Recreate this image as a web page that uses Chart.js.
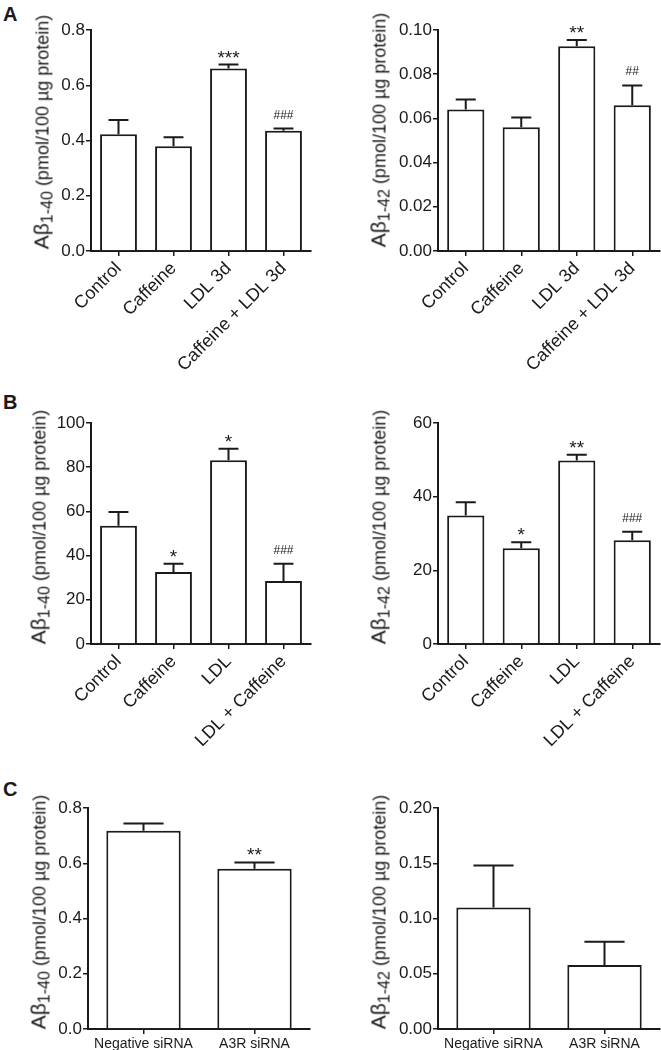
<!DOCTYPE html>
<html>
<head>
<meta charset="utf-8">
<script src="https://cdn.jsdelivr.net/npm/chart.js@4.4.1/dist/chart.umd.min.js"></script>
<style>
  body { margin: 0; background: #fff; }
  #fig { position: relative; width: 661px; height: 1050px; overflow: hidden;
         font-family: 'Liberation Sans', Arial, sans-serif; color: #1a1a1a; }
  .ytitle { position: absolute; white-space: nowrap; line-height: 1; font-size: 18px;
            transform: translate(-50%, -50%) rotate(-90deg); }
  .ytitle .ab { font-size: 21px; }
  .ytitle .sub { font-size: 16px; position: relative; top: 4px; }
  .letter { position: absolute; left: 3px; font-weight: bold; font-size: 20px; line-height: 1; }
</style>
</head>
<body>
<div id="fig">
  <div class="letter" style="top:4px">A</div>
  <div class="letter" style="top:392px">B</div>
  <div class="letter" style="top:779px">C</div>
</div>
<script>
// categories
const groupsA = ['Control', 'Caffeine', 'LDL 3d', 'Caffeine + LDL 3d'];
const groupsB = ['Control', 'Caffeine', 'LDL', 'LDL + Caffeine'];
const groupsC = ['Negative siRNA', 'A3R siRNA'];

// A: Abeta 1-40 / 1-42 (mean, upper error)
const a40 = [0.423, 0.379, 0.661, 0.435];
const a40Err = [0.051, 0.033, 0.014, 0.008];
const a40Marks = ['', '', '***', '###'];
const a42 = [0.064, 0.056, 0.0927, 0.066];
const a42Err = [0.0046, 0.0044, 0.0028, 0.0089];
const a42Marks = ['', '', '**', '##'];

// B
const b40 = [53.5, 32.6, 83.1, 28.5];
const b40Err = [6.2, 3.7, 5.3, 7.8];
const b40Marks = ['', '*', '*', '###'];
const b42 = [34.9, 26.0, 49.8, 28.2];
const b42Err = [3.6, 1.6, 1.6, 2.3];
const b42Marks = ['', '*', '**', '###'];

// C
const c40 = [0.718, 0.580];
const c40Err = [0.026, 0.023];
const c40Marks = ['', '**'];
const c42 = [0.110, 0.058];
const c42Err = [0.038, 0.021];
const c42Marks = ['', ''];

// y axis ticks
const ticksA40 = [0, 0.2, 0.4, 0.6, 0.8];
const ticksA42 = [0, 0.02, 0.04, 0.06, 0.08, 0.10];
const ticksB40 = [0, 20, 40, 60, 80, 100];
const ticksB42 = [0, 20, 40, 60];
const ticksC40 = [0, 0.2, 0.4, 0.6, 0.8];
const ticksC42 = [0, 0.05, 0.10, 0.15, 0.20];

const INK = '#1a1a1a';
const FONT = "'Liberation Sans', Arial, sans-serif";
const Y_W = 44;

// upper error whisker + significance marks
const errorBars = {
  id: 'errorBars',
  afterDatasetsDraw(chart, args, opts) {
    const ctx = chart.ctx;
    const y = chart.scales.y;
    const meta = chart.getDatasetMeta(0);
    const vals = chart.data.datasets[0].data;
    ctx.save();
    ctx.strokeStyle = INK;
    ctx.fillStyle = INK;
    ctx.lineWidth = 2;
    meta.data.forEach((bar, i) => {
      const yBar = y.getPixelForValue(vals[i]);
      const yTop = y.getPixelForValue(vals[i] + opts.errors[i]);
      const half = bar.width * 0.27;
      ctx.beginPath();
      ctx.moveTo(bar.x, yBar);
      ctx.lineTo(bar.x, yTop);
      ctx.moveTo(bar.x - half, yTop);
      ctx.lineTo(bar.x + half, yTop);
      ctx.stroke();
      const m = opts.marks[i];
      if (m) {
        ctx.textAlign = 'center';
        ctx.textBaseline = 'alphabetic';
        if (m[0] === '*') {
          ctx.font = '19px ' + FONT;
          ctx.fillText(m, bar.x, yTop - 1);
        } else {
          ctx.font = '12px ' + FONT;
          ctx.fillText(m, bar.x, yTop - 10);
        }
      }
    });
    ctx.restore();
  }
};

function makePanel(p) {
  const fig = document.getElementById('fig');
  const canvas = document.createElement('canvas');
  canvas.width = p.box[2];
  canvas.height = p.box[3];
  canvas.style.cssText = `position:absolute;left:${p.box[0]}px;top:${p.box[1]}px;width:${p.box[2]}px;height:${p.box[3]}px`;
  fig.appendChild(canvas);

  const t = document.createElement('div');
  t.className = 'ytitle';
  t.style.left = p.titleAt[0] + 'px';
  t.style.top = p.titleAt[1] + 'px';
  t.innerHTML = `<span class="ab">A\u03b2</span><span class="sub">${p.sub}</span> (pmol/100 \u00b5g protein)`;
  fig.appendChild(t);

  const [bx, by, bw, bh] = p.box;
  const [l, r, top, bottom] = p.area;
  const dec = p.decimals;
  const tickVals = p.ticks;

  new Chart(canvas, {
    type: 'bar',
    data: {
      labels: p.labels,
      datasets: [{
        data: p.values,
        backgroundColor: '#fff',
        borderColor: INK,
        borderWidth: 2,
        barPercentage: p.barPct,
        categoryPercentage: 1
      }]
    },
    options: {
      responsive: false,
      animation: false,
      devicePixelRatio: 1,
      layout: { padding: { left: l - bx - Y_W, right: bx + bw - r, top: top - by, bottom: 0 } },
      plugins: {
        legend: { display: false },
        tooltip: { enabled: false },
        errorBars: { errors: p.errors, marks: p.marks }
      },
      scales: {
        x: {
          offset: true,
          border: { display: true, color: INK, width: 2 },
          grid: { display: true, drawOnChartArea: false, offset: false, tickLength: 5, color: INK, lineWidth: 1.5 },
          ticks: {
            color: INK,
            font: { family: FONT, size: p.rotate ? 18 : 14 },
            minRotation: p.rotate ? 45 : 0,
            maxRotation: p.rotate ? 45 : 0,
            autoSkip: false,
            padding: 2
          },
          afterFit: s => { s.height = by + bh - bottom; }
        },
        y: {
          min: tickVals[0],
          max: tickVals[tickVals.length - 1],
          border: { display: true, color: INK, width: 2 },
          grid: { display: true, drawOnChartArea: false, tickLength: 5, color: INK, lineWidth: 1.5 },
          afterBuildTicks: s => { s.ticks = tickVals.map(v => ({ value: v })); },
          ticks: {
            color: INK,
            font: { family: FONT, size: 17 },
            padding: 1,
            callback: v => Number(v).toFixed(dec)
          },
          afterFit: s => { s.width = Y_W; }
        }
      }
    },
    plugins: [errorBars]
  });
}

makePanel({ box: [0, 0, 330, 400], area: [91, 311, 30, 251], labels: groupsA, values: a40, errors: a40Err, marks: a40Marks,
  ticks: ticksA40, decimals: 1, rotate: true, barPct: 0.67, sub: '1-40', titleAt: [41, 132] });
makePanel({ box: [330, 0, 331, 400], area: [438, 660, 30, 251], labels: groupsA, values: a42, errors: a42Err, marks: a42Marks,
  ticks: ticksA42, decimals: 2, rotate: true, barPct: 0.67, sub: '1-42', titleAt: [378, 130] });
makePanel({ box: [0, 370, 330, 400], area: [91, 311, 423, 644], labels: groupsB, values: b40, errors: b40Err, marks: b40Marks,
  ticks: ticksB40, decimals: 0, rotate: true, barPct: 0.67, sub: '1-40', titleAt: [38, 527] });
makePanel({ box: [330, 370, 331, 400], area: [438, 660, 423, 644], labels: groupsB, values: b42, errors: b42Err, marks: b42Marks,
  ticks: ticksB42, decimals: 0, rotate: true, barPct: 0.67, sub: '1-42', titleAt: [378, 527] });
makePanel({ box: [0, 760, 330, 290], area: [88, 310, 808, 1029], labels: groupsC, values: c40, errors: c40Err, marks: c40Marks,
  ticks: ticksC40, decimals: 1, rotate: false, barPct: 0.67, sub: '1-40', titleAt: [38, 912] });
makePanel({ box: [330, 760, 331, 290], area: [438, 660, 808, 1029], labels: groupsC, values: c42, errors: c42Err, marks: c42Marks,
  ticks: ticksC42, decimals: 2, rotate: false, barPct: 0.67, sub: '1-42', titleAt: [378, 912] });
</script>
</body>
</html>
